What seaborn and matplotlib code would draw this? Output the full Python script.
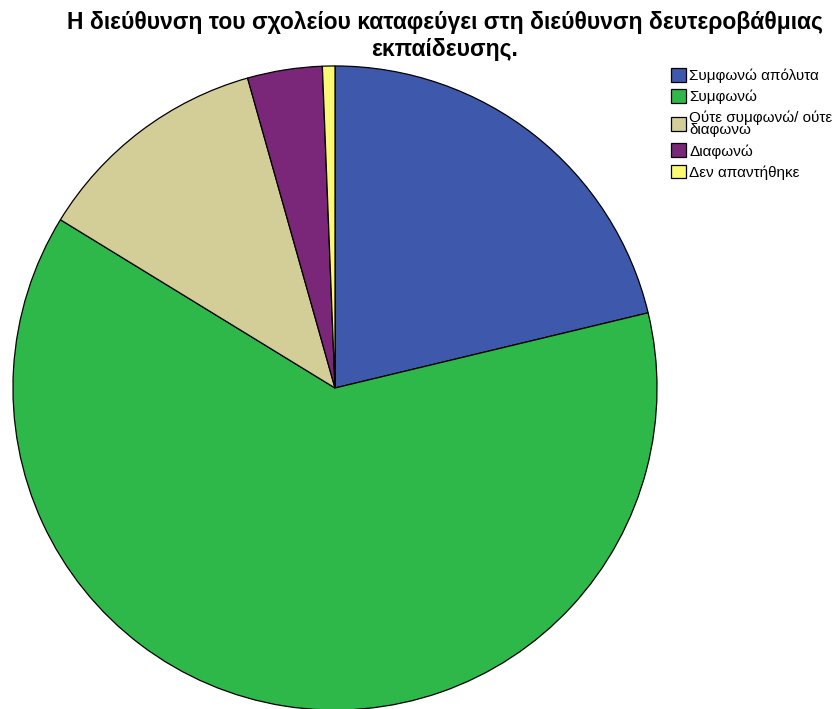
import matplotlib
matplotlib.use("Agg")
import matplotlib.pyplot as plt
import seaborn as sns

# responses (counts)
categories = ["Συμφωνώ απόλυτα", "Συμφωνώ", "Ούτε συμφωνώ/ ούτε\nδιαφωνω",
              "Διαφωνώ", "Δεν απαντήθηκε"]
counts = [34, 100, 19, 6, 1]
colors = ["#3E58AC", "#2EB84A", "#D3CE97", "#7B2779", "#FBF873"]

title = "Η διεύθυνση του σχολείου καταφεύγει στη διεύθυνση δευτεροβάθμιας\nεκπαίδευσης."

sns.set_theme(style="white")
plt.rcParams['font.family'] = ['Liberation Sans', 'DejaVu Sans']
plt.rcParams['text.color'] = 'black'

fig = plt.figure(figsize=(8.39, 7.09), dpi=100)
ax = fig.add_axes([12 / 839, -2 / 709, 646 / 839, 646 / 709])

wedges, _ = ax.pie(counts, colors=colors, startangle=90, counterclock=False,
                   radius=1.0,
                   wedgeprops=dict(edgecolor="black", linewidth=0.9))
ax.set_xlim(-1.003, 1.003)
ax.set_ylim(-1.003, 1.003)
ax.set_aspect("equal")
ax.axis("off")

fig.text(445 / 839, 1 - 11 / 709, title, ha="center", va="top",
         fontsize=16.5, fontweight="bold", linespacing=1.2, color="black")

leg = fig.legend(wedges, categories, loc="upper left",
                 bbox_to_anchor=(665 / 839, 1 - 62 / 709), frameon=False,
                 fontsize=11, handlelength=1.0, handleheight=1.0,
                 handletextpad=0.2, labelspacing=0.4, borderaxespad=0)
for t in leg.get_texts():
    t.set_color("black")
    t.set_linespacing(0.85)

fig.savefig("out.png", dpi=100)
